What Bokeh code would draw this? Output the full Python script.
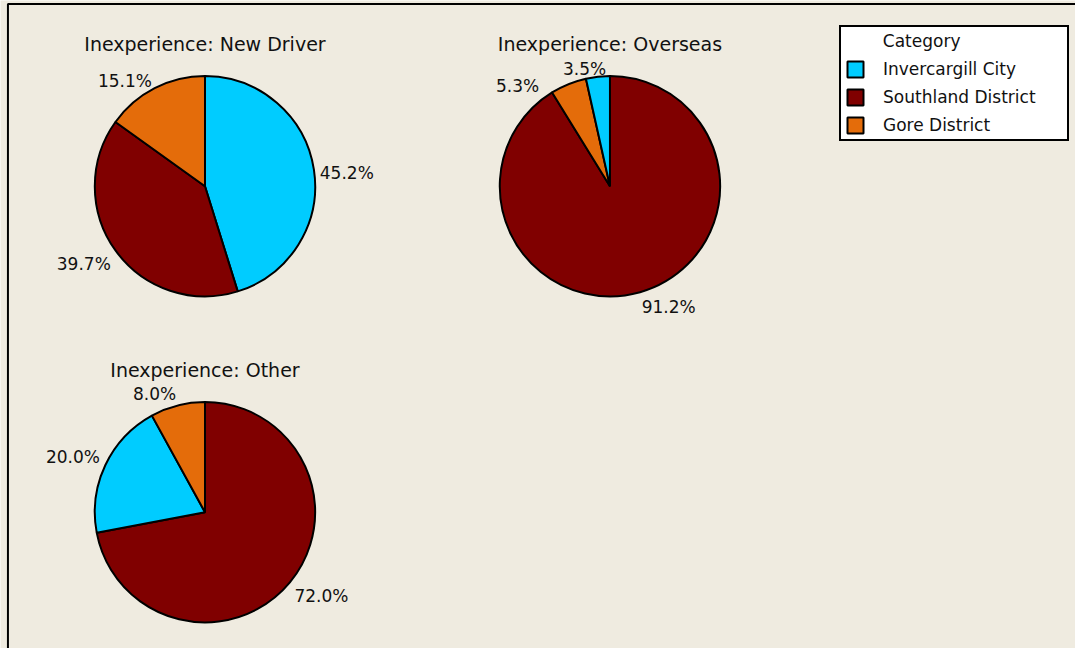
import math
from bokeh.plotting import figure
from bokeh.models import Range1d, Legend, LegendItem, BoxAnnotation, ColumnDataSource
from bokeh.core.properties import value
from bokeh.embed import file_html
from bokeh.resources import INLINE

# ---------------- data ----------------
categories = ["Invercargill City", "Southland District", "Gore District"]
panel_titles = ["Inexperience: New Driver", "Inexperience: Overseas", "Inexperience: Other"]
new_driver = [45.2, 39.7, 15.1]
overseas = [3.5, 91.2, 5.3]
other = [20.0, 72.0, 8.0]

# ---------------- styles / layout ----------------
colors = {"Invercargill City": "#00CCFF", "Southland District": "#800000", "Gore District": "#E46C0A"}
BG = "#EFEBE0"
FONT = "DejaVu Sans"
W, H = 1075, 648          # figure size in screen px
RW, RH = 1083, 656        # layout reference space
def px(X): return X
def py(Y): return RH - Y

centers = [(206, 188), (614, 188), (206, 518)]   # layout positions of pie centres
R = 111
LABEL_GAP = 6
TITLE_GAP = 33
UPPER_DROP = 4
# per-category label nudges (screen px) to avoid overlaps
nudges = [
    {"Invercargill City": (0, 4), "Gore District": (0, 4)},
    {"Invercargill City": (9, 4), "Gore District": (-27, 13)},
    {},
]

p = figure(width=W, height=H, output_backend="svg", toolbar_location=None,
           x_range=Range1d(0, RW), y_range=Range1d(0, RH),
           min_border=0, background_fill_color=BG, border_fill_color=BG)
p.axis.visible = False
p.grid.visible = False
p.outline_line_color = None

p.add_layout(BoxAnnotation(left=px(7.5), right=RW + 50, top=py(3.5), bottom=-50,
                           fill_color=None, fill_alpha=0, line_color="black",
                           line_alpha=1.0, line_width=2))

renderers = []
for k, (title, vals) in enumerate(zip(panel_titles, [new_driver, overseas, other])):
    cx, cy = centers[k]
    order = sorted(range(len(vals)), key=lambda i: -vals[i])
    cats = [categories[i] for i in order]
    v = [vals[i] for i in order]
    total = sum(v)
    starts, ends, lx, ly, ltxt, aligns, bases, xo, yo = [], [], [], [], [], [], [], [], []
    cum = 0.0
    for c, val in zip(cats, v):
        a0 = math.pi / 2 - 2 * math.pi * cum / total
        a1 = math.pi / 2 - 2 * math.pi * (cum + val) / total
        am = math.pi / 2 - 2 * math.pi * (cum + val / 2) / total
        cum += val
        starts.append(a0); ends.append(a1)
        dx, dy = math.cos(am), math.sin(am)
        lx.append(px(cx) + (R + LABEL_GAP) * dx)
        ly.append(py(cy) + (R + LABEL_GAP) * dy)
        ltxt.append(f"{val:.1f}%")
        aligns.append("left" if dx > 0.05 else ("right" if dx < -0.05 else "center"))
        upper = dy > 0.4
        bases.append("bottom" if upper else ("top" if dy < -0.4 else "middle"))
        n = nudges[k].get(c, (0, 0))
        xo.append(n[0]); yo.append(n[1] + (UPPER_DROP if upper else 0))
    src = ColumnDataSource(dict(cat=cats, start=starts, end=ends,
                                color=[colors[c] for c in cats],
                                x=[px(cx)] * len(cats), y=[py(cy)] * len(cats)))
    r = p.wedge(x="x", y="y", radius=R, start_angle="start", end_angle="end",
                direction="clock", fill_color="color", line_color="black",
                line_width=2, source=src)
    renderers.append((r, cats))
    lsrc = ColumnDataSource(dict(x=lx, y=ly, t=ltxt, a=aligns, b=bases, xo=xo, yo=yo))
    p.text(x="x", y="y", text="t", text_align="a", text_baseline="b",
           x_offset="xo", y_offset="yo", source=lsrc,
           text_font=value(FONT), text_font_size="17px", text_color="#111111")
    p.text(x=[px(cx)], y=[py(cy) + R + TITLE_GAP], text=[title], text_align="center",
           text_baseline="middle", text_font=value(FONT),
           text_font_size="19px", text_color="#111111")

r0, cats0 = renderers[0]
items = [LegendItem(label=c + "\u00a0" * 5, renderers=[r0], index=cats0.index(c)) for c in categories]
legend = Legend(items=items, location=(839, 507),
                title="\u00a0" * 7 + "Category",
                title_text_font=FONT, title_text_font_size="17px", title_text_font_style="normal",
                title_text_color="#111111", title_standoff=8,
                label_text_font=FONT, label_text_font_size="17px", label_text_color="#111111",
                glyph_width=20, glyph_height=20, spacing=8, padding=4, margin=0,
                label_standoff=18, border_line_color="black", border_line_alpha=1.0,
                border_line_width=2,
                background_fill_color="white", background_fill_alpha=1.0)
p.add_layout(legend, "center")

open("out.html", "w").write(file_html(p, INLINE))
